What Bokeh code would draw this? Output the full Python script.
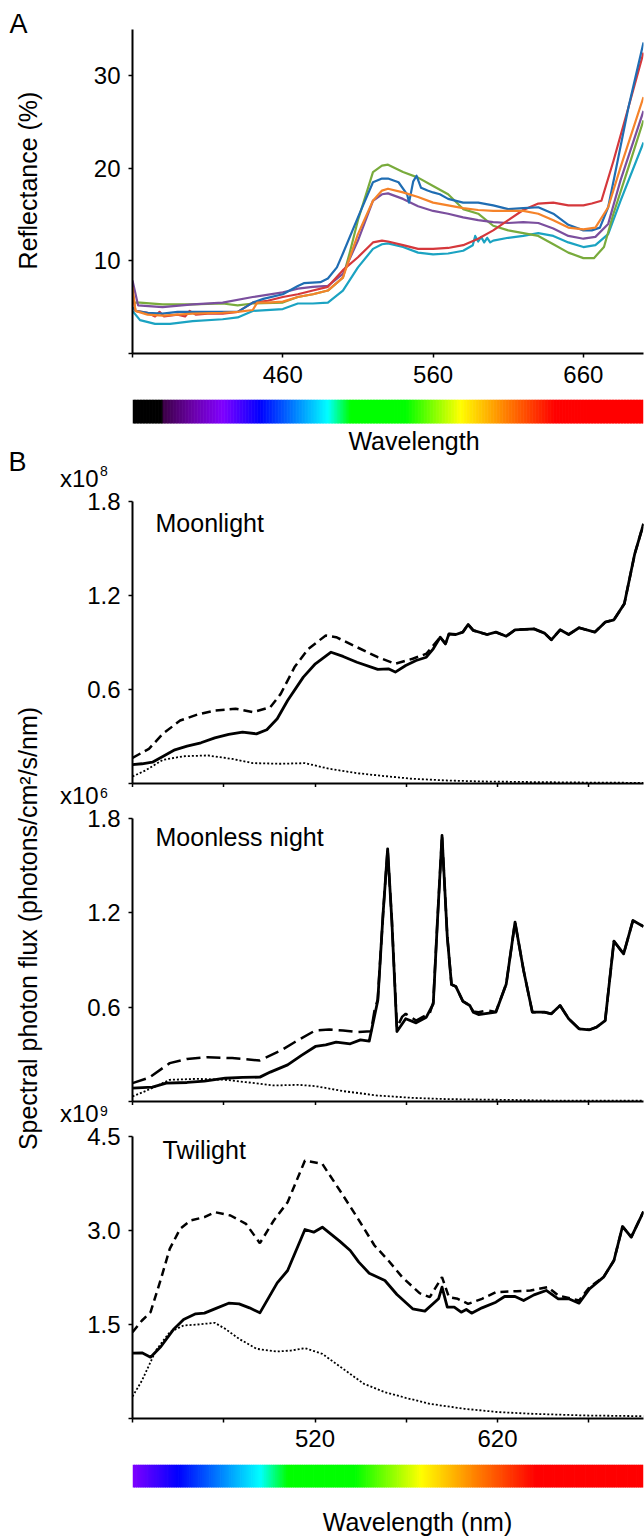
import numpy as np
from bokeh.plotting import figure
from bokeh.layouts import row, column
from bokeh.models import Range1d, FixedTicker, Label, Div
from bokeh.embed import file_html
from bokeh.resources import INLINE

FONT = "Liberation Sans"

# ---------------- Panel A: reflectance (%) ----------------
A_BLUE_WL = [360, 362, 370, 380, 390, 400, 420, 430, 440, 447, 460, 470, 474, 485, 490, 496, 500, 510, 520, 526, 530, 537, 542.7, 544, 546.8, 549, 552, 556.3, 560, 564.5, 570, 580, 590, 600, 610, 620, 630, 640, 650, 660, 665.6, 671, 676.5, 681.9, 690, 700]
A_BLUE = [5.0, 4.6, 4.4, 4.3, 4.5, 4.5, 4.5, 4.5, 5.5, 5.9, 6.4, 7.3, 7.6, 7.7, 8.1, 9.3, 10.8, 14.7, 18.5, 18.9, 18.9, 18.5, 17.2, 16.3, 18.6, 19.2, 17.9, 17.6, 17.4, 17.2, 16.7, 16.3, 16.3, 16.0, 15.6, 15.7, 15.8, 15.1, 13.9, 13.3, 13.3, 13.6, 15.8, 20.1, 26.6, 33.6]
A_RED_WL = [360, 362, 370, 375, 378, 381, 390, 395, 398, 402, 410, 420, 430, 440, 450, 460, 470, 480, 490, 500, 510, 520, 526, 530, 540, 550, 560, 570, 580, 590, 600, 610, 620, 630, 640, 650, 660, 665.6, 672, 680, 690, 700]
A_RED = [6.5, 4.6, 4.4, 4.0, 4.5, 4.0, 4.2, 4.0, 4.6, 4.2, 4.3, 4.3, 4.5, 5.5, 5.7, 6.1, 6.4, 6.8, 7.2, 9.0, 10.4, 12.0, 12.2, 12.1, 11.7, 11.3, 11.3, 11.4, 11.7, 12.4, 13.3, 14.4, 15.5, 16.2, 16.3, 16.0, 16.0, 16.2, 16.5, 20.8, 26.6, 32.5]
A_ORANGE_WL = [360, 362, 370, 380, 400, 420, 430, 440, 443, 450, 460, 470, 480, 490, 500, 510, 520, 526, 530, 540, 550, 560, 570, 580, 590, 600, 610, 620, 630, 640, 650, 660, 668, 676.5, 684.7, 700]
A_ORANGE = [7.2, 4.6, 4.2, 4.1, 4.3, 4.4, 4.5, 4.7, 5.5, 5.5, 5.6, 6.1, 6.4, 6.8, 8.2, 12.9, 16.5, 17.6, 17.8, 17.4, 16.9, 16.3, 16.0, 15.7, 15.5, 15.4, 15.4, 15.4, 15.1, 14.4, 13.6, 13.4, 13.6, 15.8, 20.1, 27.7]
A_PURPLE_WL = [360, 363.7, 380, 400, 420, 440, 460, 470, 480, 490, 500, 510, 520, 526, 530, 540, 550, 560, 570, 580, 590, 600, 610, 620, 630, 640, 650, 660, 668, 676.5, 684.7, 700]
A_PURPLE = [7.9, 5.2, 5.0, 5.3, 5.5, 6.1, 6.6, 7.0, 7.2, 7.3, 8.6, 12.2, 16.5, 17.2, 17.3, 16.7, 15.9, 15.4, 15.1, 14.7, 14.4, 14.2, 14.1, 14.2, 14.1, 13.5, 12.7, 12.4, 12.6, 14.0, 18.7, 26.2]
A_GREEN_WL = [360, 365, 380, 400, 420, 430, 440, 460, 470, 480, 490, 500, 504.4, 510, 515.4, 520, 526, 530, 540, 550, 560, 570, 580, 590, 600, 610, 620, 630, 640, 650, 660, 667, 673.7, 680, 690, 700]
A_GREEN = [5.5, 5.5, 5.3, 5.3, 5.4, 5.2, 5.4, 5.5, 6.1, 6.4, 6.8, 8.2, 10.8, 14.4, 17.2, 19.6, 20.3, 20.4, 19.6, 19.0, 18.1, 17.2, 15.6, 15.1, 13.8, 13.3, 13.0, 12.7, 11.8, 10.9, 10.3, 10.3, 11.5, 15.1, 20.1, 25.2]
A_CYAN_WL = [360, 365, 375, 385, 400, 420, 430, 440, 460, 470, 480, 490, 500, 510, 520, 526, 530, 540, 550, 560, 570, 580, 586.4, 588, 590, 592, 594, 596, 598, 600, 610, 620, 630, 640, 650, 660, 668, 676.5, 684.7, 700]
A_CYAN = [4.6, 3.6, 3.2, 3.2, 3.5, 3.7, 3.9, 4.6, 4.8, 5.4, 5.4, 5.5, 6.8, 9.3, 11.3, 11.8, 11.9, 11.5, 10.9, 10.7, 10.8, 11.1, 11.7, 12.7, 12.1, 12.6, 12.0, 12.5, 12.0, 12.2, 12.5, 12.7, 13.0, 12.7, 12.0, 11.5, 11.7, 12.9, 16.5, 22.8]

A_SERIES = [
    (A_CYAN_WL, A_CYAN, "#1ba3c2"),
    (A_GREEN_WL, A_GREEN, "#79ab3c"),
    (A_PURPLE_WL, A_PURPLE, "#7b4f9e"),
    (A_RED_WL, A_RED, "#d5383c"),
    (A_BLUE_WL, A_BLUE, "#1f6db3"),
    (A_ORANGE_WL, A_ORANGE, "#f5832a"),
]
A_XTICKS_LABELLED = [460, 560, 660]
A_XTICKS_PLAIN = [360]
A_YTICKS_LABELLED = [10, 20, 30]
A_YTICKS_PLAIN = [0]

# ---------------- Panel B: spectral photon flux ----------------
# Moonlight (x10^8)
ML_SOLID_WL = [420, 425.2, 430.9, 436.6, 443.2, 449.9, 457.5, 465.1, 472.7, 480.3, 487.9, 493.6, 499.3, 505, 513.6, 520.2, 528.8, 535.4, 543, 554.4, 560.2, 564, 569.7, 575.4, 581, 584.8, 588.6, 591.5, 593.4, 597.2, 601, 603.9, 606.7, 614.3, 619.1, 624.8, 629.6, 640, 645.7, 649.5, 654.3, 659, 664.7, 673.3, 679, 683.8, 689.5, 695.2, 700]
ML_SOLID = [0.121, 0.126, 0.136, 0.172, 0.215, 0.238, 0.26, 0.291, 0.313, 0.328, 0.317, 0.343, 0.413, 0.53, 0.679, 0.764, 0.838, 0.811, 0.774, 0.728, 0.732, 0.711, 0.753, 0.785, 0.806, 0.86, 0.934, 0.891, 0.955, 0.951, 0.966, 1.015, 0.977, 0.951, 0.966, 0.94, 0.981, 0.987, 0.96, 0.917, 0.981, 0.951, 0.994, 0.966, 1.03, 1.045, 1.147, 1.466, 1.657]
ML_DASH_WL = [420, 429, 436.6, 446.1, 455.6, 465.1, 476.5, 486, 495.5, 501.2, 508.8, 516.4, 525.9, 531.6, 543, 554.4, 564, 573.5, 581, 584.8, 588.6, 591.5, 593.4, 597.2, 601, 603.9, 606.7, 614.3, 619.1, 624.8, 629.6, 640, 645.7, 649.5, 654.3, 659, 664.7, 673.3, 679, 683.8, 689.5, 695.2, 700]
ML_DASH = [0.164, 0.221, 0.317, 0.402, 0.44, 0.466, 0.477, 0.455, 0.487, 0.572, 0.743, 0.86, 0.945, 0.934, 0.87, 0.806, 0.764, 0.796, 0.828, 0.881, 0.934, 0.891, 0.955, 0.951, 0.966, 1.015, 0.977, 0.951, 0.966, 0.94, 0.981, 0.987, 0.96, 0.917, 0.981, 0.951, 0.994, 0.966, 1.03, 1.045, 1.147, 1.466, 1.657]
ML_DOT_WL = [420, 427.1, 436.6, 448, 461.3, 474.6, 486, 501.2, 514.5, 527.8, 543, 558.3, 573.5, 592.5, 611.5, 640, 668.5, 700]
ML_DOT = [0.045, 0.083, 0.151, 0.174, 0.179, 0.157, 0.13, 0.126, 0.13, 0.094, 0.066, 0.047, 0.03, 0.019, 0.013, 0.009, 0.006, 0.004]

# Moonless night (x10^6)
MN_SOLID_WL = [420, 430.9, 438.5, 449.9, 459.4, 470.8, 480.3, 489.8, 495.5, 505, 512.6, 520.2, 525.9, 531.6, 539.3, 544.9, 549.7, 554.4, 557.3, 559.8, 562.1, 564.9, 569.7, 575.4, 581, 584.8, 587.1, 589.6, 592.5, 594.8, 597.2, 601, 604.8, 606.7, 609.6, 619.1, 624.8, 629.6, 634.3, 639.1, 645.7, 649.5, 654.3, 659, 664.7, 670.4, 674.3, 679, 683.8, 689.1, 694.2, 700]
MN_SOLID = [0.085, 0.091, 0.117, 0.121, 0.129, 0.148, 0.153, 0.155, 0.187, 0.233, 0.293, 0.35, 0.36, 0.377, 0.367, 0.392, 0.384, 0.642, 1.194, 1.607, 1.151, 0.445, 0.526, 0.5, 0.536, 0.621, 1.151, 1.692, 1.045, 0.744, 0.731, 0.638, 0.611, 0.568, 0.553, 0.568, 0.748, 1.141, 0.833, 0.568, 0.568, 0.558, 0.611, 0.526, 0.462, 0.456, 0.473, 0.515, 1.02, 0.939, 1.151, 1.113]
MN_DASH_WL = [420, 429, 440.4, 449.9, 461.3, 474.6, 489.8, 501.2, 508.8, 520.2, 527.8, 535.4, 543, 550.7, 552.6, 554.4, 557.3, 559.8, 562.1, 564.9, 567.8, 569.7, 575.4, 582.9, 584.8, 587.1, 589.6, 592.5, 594.8, 597.2, 601, 604.8, 606.7, 609.6, 614.3, 619.1, 624.8, 629.6, 634.3, 639.1, 645.7, 649.5, 654.3, 659, 664.7, 670.4, 674.3, 679, 683.8, 689.1, 694.2, 700]
MN_DASH = [0.117, 0.151, 0.244, 0.271, 0.282, 0.276, 0.261, 0.324, 0.377, 0.452, 0.458, 0.452, 0.441, 0.447, 0.579, 0.65, 1.194, 1.607, 1.151, 0.47, 0.54, 0.558, 0.515, 0.562, 0.63, 1.151, 1.692, 1.045, 0.744, 0.731, 0.638, 0.611, 0.572, 0.568, 0.579, 0.57, 0.748, 1.141, 0.833, 0.568, 0.568, 0.558, 0.611, 0.526, 0.462, 0.456, 0.473, 0.515, 1.02, 0.939, 1.151, 1.113]
MN_DOT_WL = [420, 427.1, 440.4, 455.6, 470.8, 482.2, 497.4, 510.7, 520.2, 535.4, 554.4, 573.5, 592.5, 621, 649.5, 700]
MN_DOT = [0.032, 0.066, 0.138, 0.144, 0.138, 0.123, 0.102, 0.106, 0.098, 0.066, 0.038, 0.023, 0.015, 0.011, 0.006, 0.006]

# Twilight (x10^9)
TW_SOLID_WL = [420, 425.2, 429.9, 435.6, 442.3, 448, 454.6, 459.4, 465.1, 472.7, 478.4, 484.1, 489.8, 499.3, 505, 514.5, 519.3, 524, 533.5, 539.3, 544, 549.7, 558.3, 564.9, 573.5, 580.2, 587.7, 589.6, 592.5, 596.3, 600.1, 602.9, 605.8, 611.5, 619.1, 623.9, 629.6, 634.3, 640, 646.7, 653.3, 659, 664.7, 670.4, 678.1, 683.8, 688.5, 693.3, 700]
TW_SOLID = [1.043, 1.048, 0.979, 1.149, 1.415, 1.58, 1.67, 1.681, 1.75, 1.84, 1.83, 1.766, 1.686, 2.165, 2.362, 3.016, 2.973, 3.053, 2.83, 2.681, 2.495, 2.319, 2.202, 1.979, 1.75, 1.713, 1.91, 2.096, 1.777, 1.777, 1.697, 1.739, 1.681, 1.766, 1.856, 1.947, 1.947, 1.883, 1.973, 2.043, 1.91, 1.91, 1.84, 2.069, 2.255, 2.521, 3.064, 2.894, 3.303]
TW_DASH_WL = [420, 425.2, 429.9, 435.6, 440.4, 446.1, 451.8, 459.4, 465.1, 473.7, 482.2, 489.8, 497.4, 505, 514.5, 524, 535.4, 543, 552.6, 560.2, 567.8, 577.3, 582.9, 589.6, 593.4, 598.2, 603.9, 611.5, 619.1, 630.5, 638.1, 647.6, 653.3, 664.7, 670.4, 678.1, 683.8, 688.5, 693.3, 700]
TW_DASH = [1.378, 1.564, 1.697, 2.229, 2.707, 3.027, 3.16, 3.213, 3.293, 3.239, 3.106, 2.798, 3.16, 3.452, 4.117, 4.064, 3.559, 3.213, 2.761, 2.521, 2.255, 2.0, 1.936, 2.255, 1.936, 1.91, 1.83, 1.91, 2.016, 2.032, 2.043, 2.096, 1.963, 1.883, 2.096, 2.255, 2.521, 3.064, 2.894, 3.303]
TW_DOT_WL = [420, 425.2, 432.8, 440.4, 448, 455.6, 465.1, 470.8, 478.4, 487.9, 499.3, 506.9, 514.5, 524, 535.4, 546.8, 558.3, 569.7, 582.9, 602, 621, 640, 668.5, 700]
TW_DOT = [0.351, 0.606, 1.085, 1.378, 1.484, 1.5, 1.527, 1.431, 1.271, 1.112, 1.069, 1.085, 1.122, 1.032, 0.793, 0.553, 0.42, 0.33, 0.234, 0.154, 0.101, 0.074, 0.048, 0.037]

B_XTICKS_LABELLED = [520, 620]
B_XTICKS_PLAIN = [420, 470, 570, 670]
B_XTICKS_ALL = [420, 470, 520, 570, 620, 670]
ML_YTICKS_LABELLED = [0.6, 1.2, 1.8]
TW_YTICKS_LABELLED = [1.5, 3, 4.5]
TW_YLABELS = {1.5: "1.5", 3: "3.0", 4.5: "4.5"}
B_YTICKS_PLAIN = [0]

# Colour spectrum stops (nm -> colour)
CB_WL = [360, 380, 380.5, 400, 420, 445, 465, 490, 505, 542, 578, 608, 641, 700]
CB_HEX = ["#000000", "#000000", "#3c0046", "#6a00a8", "#8000ff", "#0000ff", "#0070ff", "#00ffff",
          "#00ff00", "#00ff00", "#ffff00", "#ff8000", "#ff0000", "#ff0000"]

RW = 586   # width of right-hand column figures
LEFT = 74  # room for the y tick labels
BASE_SHIFT = 0.37  # labels are anchored this fraction of their size above the baseline


def style_axes(p, xt_lab, xt_plain, yt_lab, yt_plain, ylabels=None, x_standoff=8):
    p.outline_line_color = None
    p.grid.visible = False
    for ax in (p.xaxis[0], p.yaxis[0]):
        ax.axis_line_width = 2
        ax.axis_line_color = "black"
        ax.major_tick_line_width = 1.5
        ax.major_tick_line_color = "black"
        ax.minor_tick_line_width = 1.5
        ax.minor_tick_line_color = "black"
        ax.major_tick_in = 0
        ax.minor_tick_in = 0
        ax.major_tick_out = 4
        ax.minor_tick_out = 4
        ax.major_label_text_font = FONT
        ax.major_label_text_font_size = "24px"
        ax.major_label_text_color = "black"
    p.xaxis.ticker = FixedTicker(ticks=xt_lab, minor_ticks=xt_plain)
    p.yaxis.ticker = FixedTicker(ticks=yt_lab, minor_ticks=yt_plain)
    if ylabels:
        p.yaxis.major_label_overrides = ylabels
    p.yaxis.major_label_standoff = 8
    p.xaxis.major_label_standoff = x_standoff


def panel(h, xr, yr, top, bottom):
    return figure(width=RW, height=h, x_range=Range1d(*xr), y_range=Range1d(*yr),
                  output_backend="svg", toolbar_location=None, title=None,
                  min_border_left=LEFT, min_border_right=1,
                  min_border_top=top, min_border_bottom=bottom)


def lab(p, x, y, text, size=24, align="left", angle=0.0):
    """Place text so that its baseline sits at canvas position (x, y)."""
    if angle:
        x = x - BASE_SHIFT * size
    else:
        y = y - BASE_SHIFT * size
    p.add_layout(Label(x=x, y=y, x_units="canvas", y_units="canvas", text=text,
                       text_font=FONT, text_font_size="%dpx" % size, text_color="black",
                       text_align=align, text_baseline="alphabetic", angle=angle))


def blank(w, h):
    p = figure(width=w, height=h, output_backend="svg", toolbar_location=None, title=None,
               x_axis_location=None, y_axis_location=None, min_border=0,
               x_range=Range1d(0, 1), y_range=Range1d(0, 1))
    p.outline_line_color = None
    p.grid.visible = False
    return p


def sci_strip(h, base_top, sup_top, exponent):
    """Strip holding the 'x10^n' scale note that sits above a panel's y axis."""
    html = (
        '<div style="position:relative;width:%dpx;height:%dpx;overflow:visible;'
        'font-family:\'Liberation Sans\',Arial,sans-serif;color:#000;">'
        '<span style="position:absolute;left:2px;top:%.1fpx;font-size:24px;line-height:24px;'
        'white-space:nowrap;">x10</span>'
        '<span style="position:absolute;left:42px;top:%.1fpx;font-size:14px;line-height:14px;'
        'white-space:nowrap;">%s</span></div>'
    ) % (RW, h, base_top, sup_top, exponent)
    return Div(text=html, width=RW, height=h, margin=0)


def spectrum(h, xr, top, bar_h):
    frame_h = h - top
    p = figure(width=RW, height=h, x_range=Range1d(*xr),
               y_range=Range1d(1 - frame_h / bar_h, 1),
               output_backend="svg", toolbar_location=None, title=None,
               x_axis_location=None, y_axis_location=None,
               min_border_left=LEFT, min_border_right=1,
               min_border_top=top, min_border_bottom=0)
    p.outline_line_color = None
    p.grid.visible = False
    rgb = np.array([[int(c[i:i + 2], 16) for i in (1, 3, 5)] for c in CB_HEX], dtype=float)
    wl = np.arange(xr[0], xr[1], 1.0)
    mid = wl + 0.5
    cols = []
    for m in mid:
        r, g, b = (np.interp(m, CB_WL, rgb[:, k]) for k in range(3))
        cols.append("#%02x%02x%02x" % (int(round(r)), int(round(g)), int(round(b))))
    right = np.minimum(wl + 1.4, xr[1])
    p.quad(left=wl, right=right, bottom=0, top=1, fill_color=cols, line_color=None)
    return p


# ---------- Panel A ----------
pA = panel(393, (360, 700), (0, 35), 29, 40)
style_axes(pA, A_XTICKS_LABELLED, A_XTICKS_PLAIN, A_YTICKS_LABELLED, A_YTICKS_PLAIN, x_standoff=8)
for wl, vals, col in A_SERIES:
    pA.line(wl, vals, line_color=col, line_width=2.2, line_join="round")

cbA = spectrum(67, (360, 700), 6, 24)
lab(cbA, 355.5, 56.5, "Wavelength", size=25, align="center")

# ---------- Moonlight ----------
s8 = sci_strip(27, 6.7, 4.2, "8")

pML = panel(300, (420, 700), (0, 1.8), 14, 4)
style_axes(pML, [], B_XTICKS_ALL, ML_YTICKS_LABELLED, B_YTICKS_PLAIN)
pML.line(ML_DOT_WL, ML_DOT, line_color="black", line_width=1.8, line_dash="2 2")
pML.line(ML_DASH_WL, ML_DASH, line_color="black", line_width=2.5, line_dash="9 5")
pML.line(ML_SOLID_WL, ML_SOLID, line_color="black", line_width=2.8, line_join="round")
lab(pML, 97, 45, "Moonlight", size=25)

# ---------- Moonless night ----------
s6 = sci_strip(17, -3.1, -0.8, "6")

pMN = panel(301, (420, 700), (0, 1.8), 14, 4)
style_axes(pMN, [], B_XTICKS_ALL, ML_YTICKS_LABELLED, B_YTICKS_PLAIN)
pMN.line(MN_DOT_WL, MN_DOT, line_color="black", line_width=1.8, line_dash="2 2")
pMN.line(MN_DASH_WL, MN_DASH, line_color="black", line_width=2.5, line_dash="14 6")
pMN.line(MN_SOLID_WL, MN_SOLID, line_color="black", line_width=2.8, line_join="round")
lab(pMN, 97, 42, "Moonless night", size=25)

# ---------- Twilight ----------
s9 = sci_strip(17, -3.1, -0.8, "9")

pTW = panel(335, (420, 700), (0, 4.5), 14, 39)
style_axes(pTW, B_XTICKS_LABELLED, B_XTICKS_PLAIN, TW_YTICKS_LABELLED, B_YTICKS_PLAIN,
           ylabels=TW_YLABELS, x_standoff=7)
pTW.line(TW_DOT_WL, TW_DOT, line_color="black", line_width=1.8, line_dash="2 2")
pTW.line(TW_DASH_WL, TW_DASH, line_color="black", line_width=2.5, line_dash="8 5")
pTW.line(TW_SOLID_WL, TW_SOLID, line_color="black", line_width=2.8, line_join="round")
lab(pTW, 104, 37, "Twilight", size=25)

cbB = spectrum(79, (420, 700), 7, 23)
lab(cbB, 359, 74, "Wavelength (nm)", size=25, align="center")

# ---------- Left strip with panel letters and y titles ----------
pL = blank(58, 1536)
lab(pL, 9, 33, "A", size=27)
lab(pL, 8, 471, "B", size=27)
lab(pL, 37, 180, "Reflectance (%)", size=25, align="center", angle=np.pi / 2)
lab(pL, 37, 928, "Spectral photon flux (photons/cm\u00b2/s/nm)", size=25, align="center", angle=np.pi / 2)

layout = row(pL, column(pA, cbA, s8, pML, s6, pMN, s9, pTW, cbB, spacing=0), spacing=0)

with open("out.html", "w") as f:
    f.write(file_html(layout, INLINE))
